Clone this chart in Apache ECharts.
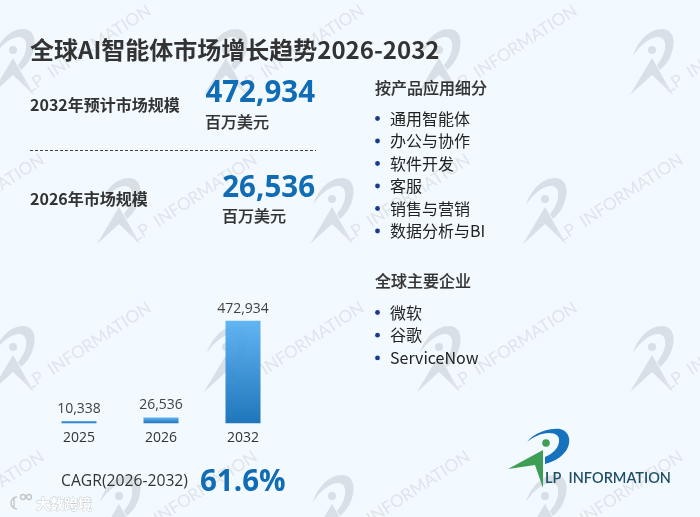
<!DOCTYPE html>
<html><head><meta charset="utf-8">
<style>html,body{margin:0;padding:0;background:#f2f9ff}#c{width:700px;height:517px}</style>
<script src="https://cdn.jsdelivr.net/npm/echarts@6/dist/echarts.min.js"></script>
</head><body><div id="c"></div>
<script>
const years = ['2025','2026','2032'];
const marketValues = [10338,26536,472934];
const titleText = '全球AI智能体市场增长趋势2026-2032';
const productHeading = '按产品应用细分';
const products = ['通用智能体','办公与协作','软件开发','客服','销售与营销','数据分析与BI'];
const companyHeading = '全球主要企业';
const companies = ['微软','谷歌','ServiceNow'];
const cagrLabel = 'CAGR(2026-2032)';
const cagrValue = '61.6%';
const unitText = '百万美元';

const CJK = '"Noto Sans CJK SC","Open Sans",sans-serif';
const NUM = '"Open Sans","Noto Sans CJK SC",sans-serif';
const fmt = v => v.toLocaleString('en-US');
echarts.graphic.registerShape('wmArc',echarts.graphic.extendPath('M3 28 C8 12 20 1 32 1 C42 1 45 10 43 20 C41 30 36 37 30 42 L27 37 C33 30 36 22 35 15 C34 9 28 8 23 10 C15 13 8 20 3 28 Z',{}));
echarts.graphic.registerShape('logoArc',echarts.graphic.extendPath('M527 442 C535 432 550 428 560 429 C569 431 571 440 568 447 C565 455 556 461 545 464 L545 457 C552 454 558 449 559 442 C560 436 556 433 549 433 C541 433 533 437 527 442 Z',{}));
const els = [];
function txt(x,y,text,size,color,weight,align,family,extra){
  els.push({type:'text',x,y,z:5,style:Object.assign({text,fill:color,font:`${weight} ${size}px ${family||CJK}`,textAlign:align||'left',textVerticalAlign:'middle'},extra||{})});
}
const medium={stroke:'#333333',lineWidth:0.15};
const WM='#d8dfe5';
function watermark(x,y){
  els.push({type:'group',x,y,z:1,children:[
    {type:'wmArc',z:1,shape:{},style:{fill:WM}},
    {type:'circle',z:1,shape:{cx:22,cy:22,r:4},style:{fill:WM}},
    {type:'polygon',z:1,shape:{points:[[0,67],[22,30],[43,67],[22,47]]},style:{fill:WM}},
    {type:'text',z:1,x:40,y:68,rotation:33*Math.PI/180,style:{text:'LP  INFORMATION',fill:'#dfe5ea',font:'400 17px Lato,sans-serif',textVerticalAlign:'bottom'}}
  ]});
}
[[28,[-9,204,417,630]],[177,[-116,97,310,523]],[325,[-9,204,417,630]],[474,[-116,97,310,523]]]
  .forEach(r=>r[1].forEach(x=>watermark(x,r[0])));

txt(30,50,titleText,24,'#333333',700);
txt(30,105,'2032年预计市场规模',16,'#333333',700);
txt(315,94,fmt(marketValues[2]),29.5,'#0f6cb5',700,'right',NUM);
txt(205,122,unitText,16,'#333333',500,'left',CJK,medium);
els.push({type:'line',z:5,shape:{x1:30,y1:150.5,x2:316,y2:150.5},style:{stroke:'#444',lineWidth:1,lineDash:[3,2]}});
txt(30,199,'2026年市场规模',16,'#333333',700);
txt(315,189,fmt(marketValues[1]),29.5,'#0f6cb5',700,'right',NUM);
txt(222,216,unitText,16,'#333333',500,'left',CJK,medium);

function list(head,headY,items,firstY,step){
  txt(375,headY,head,16,'#333333',500,'left',CJK,medium);
  items.forEach((t,i)=>{
    const y=firstY+i*step;
    els.push({type:'circle',z:5,shape:{cx:377.5,cy:y,r:2.4},style:{fill:'#1c3a8c'}});
    txt(390,y,t,16,'#222222',400,'left',CJK);
  });
}
list(productHeading,88,products,118.5,22.5);
list(companyHeading,281,companies,312.5,22.7);

txt(61,481.5,cagrLabel,15.7,'#333333',400,'left',NUM);
txt(200,483,cagrValue,29.5,'#0f6cb5',700,'left',NUM);

// main logo
els.push({type:'logoArc',z:5,shape:{},style:{fill:'#1672bd'}});
els.push({type:'circle',z:5,shape:{cx:546,cy:443,r:3.8},style:{fill:'#3f9e55'}});
els.push({type:'polygon',z:5,shape:{points:[[508,469],[543,450],[543,488],[535,465]]},style:{fill:'#3f9e55'}});
txt(545,478,'LP  INFORMATION',14.5,'#1f4e66',600,'left','Lato,sans-serif');

// source stamp bottom-left
txt(36,504,'大数跨境',14,'#ffffff',700,'left',CJK,{stroke:'#c4c8cc',lineWidth:0.8});
const stamp={fill:'none',stroke:'#c4c8cc',lineWidth:1.5};
els.push({type:'arc',z:5,shape:{cx:17,cy:503,r:6,startAngle:Math.PI*0.5,endAngle:Math.PI*1.5,clockwise:true},style:stamp});
els.push({type:'line',z:5,shape:{x1:14,y1:497,x2:14,y2:508},style:stamp});
els.push({type:'circle',z:5,shape:{cx:23,cy:497,r:2.4},style:stamp});
els.push({type:'circle',z:5,shape:{cx:29,cy:497,r:2.4},style:stamp});

const chart = echarts.init(document.getElementById('c'),null,{renderer:'canvas'});
chart.setOption({
  animation:false,
  backgroundColor:'#f2f9ff',
  graphic:{elements:els},
  grid:{left:38,width:246,top:320.7,height:102.5,containLabel:false},
  xAxis:{type:'category',data:years,axisLine:{show:false},axisTick:{show:false},
    axisLabel:{color:'#333333',fontSize:14,fontFamily:NUM,margin:8}},
  yAxis:{type:'value',min:0,max:472934,show:false,splitLine:{show:false}},
  series:[{type:'bar',data:marketValues,barWidth:35,z:3,
    itemStyle:{opacity:0.93,color:new echarts.graphic.LinearGradient(0,0,0,1,[{offset:0,color:'#58b0f2'},{offset:1,color:'#0f6cb5'}])},
    label:{show:true,position:'top',distance:5,color:'#333333',fontSize:14,fontFamily:NUM,formatter:p=>fmt(p.value)}}]
});
</script></body></html>
